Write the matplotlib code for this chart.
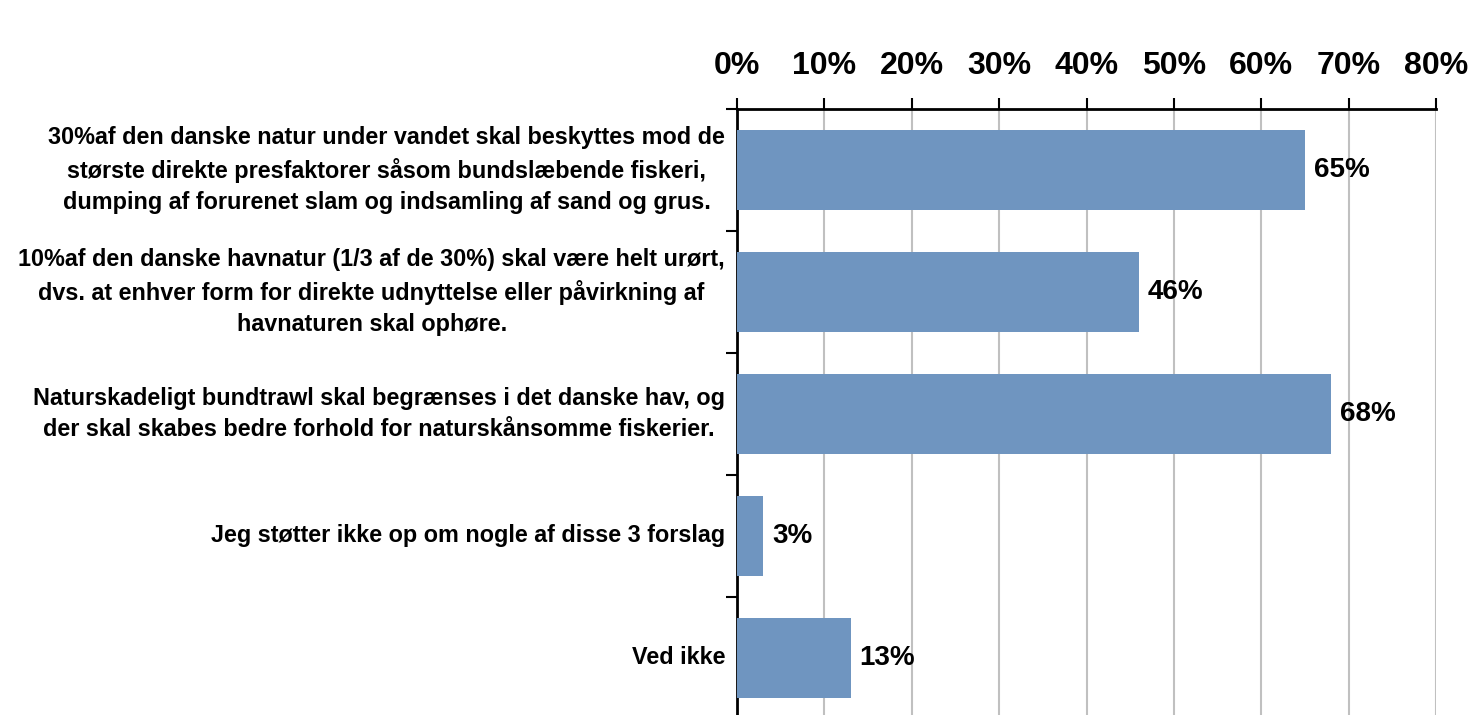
import matplotlib
matplotlib.use("Agg")
import matplotlib.pyplot as plt
from matplotlib.ticker import FixedLocator, PercentFormatter

categories = [
    "30%af den danske natur under vandet skal beskyttes mod de\nstørste direkte presfaktorer såsom bundslæbende fiskeri,\ndumping af forurenet slam og indsamling af sand og grus.",
    "10%af den danske havnatur (1/3 af de 30%) skal være helt urørt,\ndvs. at enhver form for direkte udnyttelse eller påvirkning af\nhavnaturen skal ophøre.",
    "Naturskadeligt bundtrawl skal begrænses i det danske hav, og\nder skal skabes bedre forhold for naturskånsomme fiskerier.",
    "Jeg støtter ikke op om nogle af disse 3 forslag",
    "Ved ikke",
]
values = [65, 46, 68, 3, 13]
value_labels = ["65%", "46%", "68%", "3%", "13%"]
xticks = [0, 10, 20, 30, 40, 50, 60, 70, 80]

plt.rcParams['font.family'] = ['Liberation Sans', 'DejaVu Sans']
plt.rcParams['font.weight'] = 'bold'

W, H = 1470, 715
fig = plt.figure(figsize=(W / 100, H / 100), dpi=100)
ax_left, ax_right = 737 / W, 1436 / W
ax_top_px, band = 109, 121.9
ax_bottom_px = ax_top_px + band * len(categories)
ax = fig.add_axes([ax_left, 1 - ax_bottom_px / H, ax_right - ax_left, (ax_bottom_px - ax_top_px) / H])

y = list(range(len(categories)))
ax.barh(y, values, height=80 / band, color="#6f95c0", zorder=3)
ax.set_xlim(0, 80)
ax.set_ylim(len(categories) - 0.5, -0.5)

ax.xaxis.tick_top()
ax.set_xticks(xticks)
ax.xaxis.set_major_formatter(PercentFormatter(decimals=0))
ax.tick_params(axis='x', which='major', length=8, width=1.5, direction='out',
               labelsize=23, pad=12, colors='black')
for lab in ax.get_xticklabels():
    lab.set_fontweight('bold')
ax.grid(axis='x', color='#c0c0c0', linewidth=1.5, zorder=0)

# category separators on y axis
ax.set_yticks(y)
ax.set_yticklabels([])
ax.tick_params(axis='y', which='major', length=0)
ax.yaxis.set_minor_locator(FixedLocator([i + 0.5 for i in range(len(categories) - 1)] + [-0.5]))
ax.tick_params(axis='y', which='minor', length=8, width=1.5, direction='out')

for i, cat in enumerate(categories):
    ax.annotate(cat, xy=(0, i), xycoords=('axes fraction', 'data'),
                xytext=(-12, 0), textcoords='offset pixels',
                ha='right', va='center', multialignment='center',
                fontsize=16.8, fontweight='bold', linespacing=1.44)

for i, (v, lab) in enumerate(zip(values, value_labels)):
    ax.annotate(lab, xy=(v, i), xytext=(9, 0), textcoords='offset pixels',
                ha='left', va='center', fontsize=20, fontweight='bold')

for s in ['right', 'bottom']:
    ax.spines[s].set_visible(False)
ax.spines['top'].set_linewidth(2)
ax.spines['left'].set_linewidth(2)

fig.savefig("out.png", dpi=100)
